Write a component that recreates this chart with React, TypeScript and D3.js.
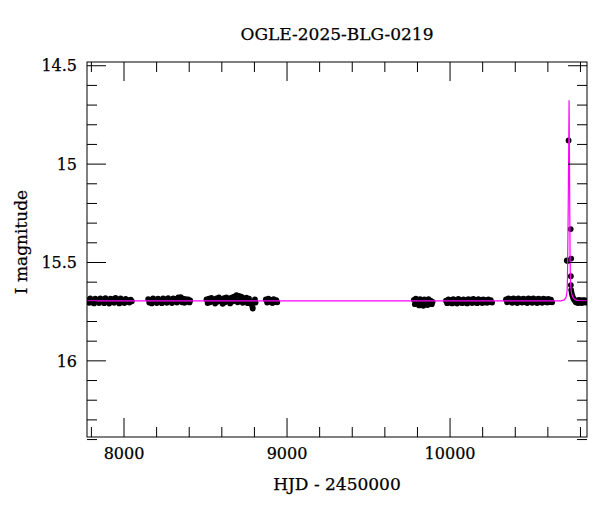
import React from 'react';
import * as d3 from 'd3';

// OGLE photometry (HJD - 2450000, I mag)
const season2017: [number, number][] = [
  [7778, 15.690], [7786, 15.705], [7793, 15.682], [7801, 15.702], [7809, 15.692], [7816, 15.708],
  [7824, 15.684], [7832, 15.698], [7840, 15.690], [7847, 15.706], [7855, 15.682], [7863, 15.697],
  [7871, 15.689], [7878, 15.707], [7886, 15.681], [7894, 15.699], [7902, 15.692], [7909, 15.709],
  [7917, 15.684], [7925, 15.698], [7933, 15.686], [7940, 15.705], [7948, 15.680], [7956, 15.697],
  [7963, 15.690], [7971, 15.708], [7979, 15.683], [7987, 15.700], [7994, 15.691], [8002, 15.706],
  [8010, 15.685], [8018, 15.699], [8025, 15.692], [8033, 15.704], [8041, 15.689], [8048, 15.697],
];

const season2018: [number, number][] = [
  [8148, 15.686], [8155, 15.704], [8163, 15.690], [8170, 15.708], [8178, 15.682], [8186, 15.698],
  [8194, 15.689], [8201, 15.706], [8209, 15.684], [8217, 15.697], [8224, 15.691], [8232, 15.707],
  [8240, 15.683], [8248, 15.699], [8255, 15.688], [8263, 15.705], [8271, 15.681], [8278, 15.696],
  [8286, 15.690], [8294, 15.706], [8302, 15.682], [8309, 15.698], [8317, 15.685], [8325, 15.704],
  [8333, 15.678], [8340, 15.694], [8348, 15.676], [8356, 15.702], [8363, 15.684], [8371, 15.705],
  [8379, 15.686], [8386, 15.699], [8394, 15.688], [8402, 15.703], [8406, 15.693],
];

const season2019: [number, number][] = [
  [8506, 15.688], [8513, 15.706], [8521, 15.684], [8528, 15.702], [8536, 15.680], [8544, 15.697],
  [8551, 15.689], [8559, 15.709], [8567, 15.682], [8574, 15.699], [8582, 15.678], [8590, 15.696],
  [8597, 15.688], [8605, 15.710], [8613, 15.681], [8620, 15.702], [8628, 15.677], [8636, 15.695],
  [8643, 15.684], [8651, 15.708], [8659, 15.679], [8666, 15.698], [8674, 15.674], [8682, 15.692],
  [8690, 15.666], [8697, 15.702], [8705, 15.670], [8713, 15.690], [8720, 15.674], [8728, 15.705],
  [8736, 15.682], [8743, 15.698], [8751, 15.679], [8759, 15.707], [8767, 15.684], [8774, 15.702],
  [8782, 15.712], [8788, 15.726], [8790, 15.734], [8796, 15.702], [8803, 15.688], [8807, 15.704],
];

const season2020: [number, number][] = [
  [8870, 15.688], [8878, 15.704], [8886, 15.684], [8894, 15.700], [8902, 15.690], [8910, 15.706],
  [8918, 15.686], [8926, 15.701], [8934, 15.691], [8940, 15.702],
];

const season2022: [number, number][] = [
  [9778, 15.690], [9784, 15.712], [9790, 15.684], [9797, 15.706], [9803, 15.694], [9810, 15.718],
  [9816, 15.686], [9823, 15.708], [9829, 15.696], [9836, 15.720], [9842, 15.688], [9849, 15.710],
  [9855, 15.692], [9862, 15.716], [9868, 15.686], [9875, 15.706], [9881, 15.694], [9888, 15.712],
  [9893, 15.700],
];

const season2023: [number, number][] = [
  [9975, 15.694], [9982, 15.707], [9990, 15.688], [9997, 15.704], [10005, 15.692], [10013, 15.708],
  [10020, 15.686], [10028, 15.702], [10036, 15.690], [10043, 15.709], [10051, 15.685], [10059, 15.701],
  [10066, 15.691], [10074, 15.707], [10082, 15.687], [10089, 15.703], [10097, 15.690], [10105, 15.708],
  [10112, 15.686], [10120, 15.701], [10128, 15.689], [10135, 15.706], [10143, 15.685], [10151, 15.702],
  [10158, 15.691], [10166, 15.707], [10174, 15.686], [10181, 15.701], [10189, 15.690], [10197, 15.706],
  [10204, 15.687], [10212, 15.702], [10220, 15.691], [10227, 15.705], [10235, 15.688], [10243, 15.701],
  [10250, 15.692], [10258, 15.704],
];

const season2024: [number, number][] = [
  [10343, 15.688], [10350, 15.702], [10358, 15.682], [10366, 15.699], [10373, 15.686], [10381, 15.705],
  [10389, 15.683], [10396, 15.700], [10404, 15.688], [10412, 15.706], [10419, 15.682], [10427, 15.699],
  [10435, 15.687], [10442, 15.704], [10450, 15.684], [10458, 15.701], [10465, 15.688], [10473, 15.706],
  [10481, 15.682], [10488, 15.700], [10496, 15.686], [10504, 15.705], [10511, 15.683], [10519, 15.699],
  [10527, 15.688], [10534, 15.706], [10542, 15.684], [10550, 15.701], [10557, 15.687], [10565, 15.705],
  [10573, 15.684], [10580, 15.700], [10588, 15.688], [10596, 15.704], [10603, 15.685], [10611, 15.701],
  [10619, 15.689], [10626, 15.702],
];

const season2025: [number, number][] = [
  [10716, 15.490], [10722, 15.492], [10727, 14.880], [10740, 15.330], [10743, 15.480], [10741, 15.570],
  [10741, 15.615], [10743, 15.640], [10746, 15.655], [10750, 15.668], [10755, 15.680], [10760, 15.688],
  [10766, 15.694], [10772, 15.702], [10778, 15.694], [10784, 15.706], [10790, 15.690], [10796, 15.704],
  [10802, 15.693], [10808, 15.706], [10814, 15.691], [10820, 15.702], [10826, 15.692], [10832, 15.704],
  [10838, 15.696],
];

// model curve points
const model: [number, number][] = [
  [7773, 15.695], [10680, 15.695], [10700, 15.690], [10710, 15.680], [10715, 15.665], [10718, 15.640],
  [10720, 15.590], [10722, 15.450], [10725, 15.200], [10728, 14.900], [10730, 14.675], [10732, 14.900],
  [10734, 15.200], [10736, 15.450], [10738, 15.580], [10741, 15.630], [10746, 15.660], [10755, 15.680],
  [10770, 15.690], [10790, 15.695], [10840, 15.695],
];

const xMajor = [8000, 9000, 10000];
const xMinor = d3.range(7800, 10801, 200);
const yMajor = [14.5, 15, 15.5, 16];
const yMinor = d3.range(14.5, 16.41, 0.1);

const title = 'OGLE-2025-BLG-0219';
const xTitle = 'HJD - 2450000';
const yTitle = 'I magnitude';

const W = 600, H = 512;
const m = { left: 87, right: 587, top: 62, bottom: 437 };
const font = '"DejaVu Serif", serif';

export default function App() {
  const x = d3.scaleLinear().domain([7773, 10840]).range([m.left, m.right]);
  const y = d3.scaleLinear().domain([14.481, 16.387]).range([m.top, m.bottom]);

  const points = [
    ...season2017, ...season2018, ...season2019, ...season2020,
    ...season2022, ...season2023, ...season2024, ...season2025,
  ];
  const line = d3.line<[number, number]>().x(d => x(d[0])).y(d => y(d[1]));

  const majorLen = 19, minorLen = 10;
  const textStyle = { stroke: '#000', strokeWidth: 0.25 };

  return (
    <svg width={W} height={H} style={{ position: 'absolute', left: 0, top: 0, background: '#fff' }}
      fontFamily={font}>
      <defs>
        <clipPath id="plot">
          <rect x={m.left} y={m.top} width={m.right - m.left} height={m.bottom - m.top} />
        </clipPath>
      </defs>
      <text x={(m.left + m.right) / 2} y={40} textAnchor="middle" fontSize={17} {...textStyle}>{title}</text>

      <g clipPath="url(#plot)">
        {points.map((d, i) => (
          <circle key={i} cx={x(d[0])} cy={y(d[1])} r={2.9} fill="#000" />
        ))}
        <path d={line(model) ?? ''} fill="none" stroke="#ff00ff" strokeWidth={1.2} />
      </g>

      <rect x={m.left} y={m.top} width={m.right - m.left} height={m.bottom - m.top}
        fill="none" stroke="#000" strokeWidth={1} />

      {/* x ticks, bottom and top */}
      {xMinor.map(v => {
        const big = xMajor.includes(v);
        const L = big ? majorLen : minorLen;
        return (
          <g key={'x' + v} stroke="#000" strokeWidth={1}>
            <line x1={x(v)} x2={x(v)} y1={m.bottom} y2={m.bottom - L} />
            <line x1={x(v)} x2={x(v)} y1={m.top} y2={m.top + L} />
          </g>
        );
      })}
      {xMajor.map(v => (
        <text key={'xl' + v} x={x(v)} y={459} textAnchor="middle" fontSize={16} {...textStyle}>{v}</text>
      ))}

      {/* y ticks, left and right */}
      {yMinor.map(v => {
        const big = yMajor.some(t => Math.abs(t - v) < 1e-6);
        const L = big ? majorLen : minorLen;
        return (
          <g key={'y' + v.toFixed(1)} stroke="#000" strokeWidth={1}>
            <line x1={m.left} x2={m.left + L} y1={y(v)} y2={y(v)} />
            <line x1={m.right} x2={m.right - L} y1={y(v)} y2={y(v)} />
          </g>
        );
      })}
      {yMajor.map(v => (
        <text key={'yl' + v} x={77} y={y(v)} dy="0.36em" textAnchor="end" fontSize={16} {...textStyle}>{v}</text>
      ))}

      <text x={(m.left + m.right) / 2} y={490} textAnchor="middle" fontSize={17} {...textStyle}>{xTitle}</text>
      <text transform="translate(27,242) rotate(-90)" textAnchor="middle" fontSize={17} {...textStyle}>{yTitle}</text>
    </svg>
  );
}
